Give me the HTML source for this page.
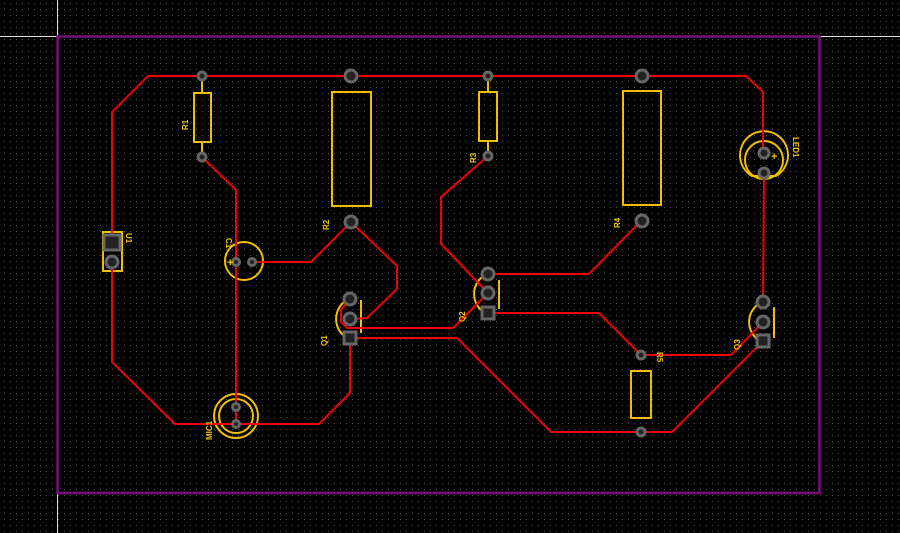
<!DOCTYPE html>
<html><head><meta charset="utf-8"><style>
html,body{margin:0;padding:0;background:#000;}
svg{display:block}
text{font-family:"Liberation Sans",sans-serif;font-weight:bold;font-size:8px;fill:#f0c800}
</style></head><body>
<svg width="900" height="533" viewBox="0 0 900 533" xmlns="http://www.w3.org/2000/svg">
<defs>
<pattern id="g" x="4" y="3" width="6" height="6" patternUnits="userSpaceOnUse">
<rect x="0" y="0" width="1" height="1" fill="#555"/>
</pattern>
</defs>
<rect width="900" height="533" fill="#000"/>
<rect width="900" height="533" fill="url(#g)"/>
<line x1="0" y1="36.5" x2="900" y2="36.5" stroke="#ddd" stroke-width="1"/>
<line x1="57.5" y1="0" x2="57.5" y2="533" stroke="#ddd" stroke-width="1"/>
<rect x="57.5" y="36.5" width="762" height="456.5" fill="none" stroke="#7a0a7a" stroke-width="2.5"/>

<g fill="none" stroke="#f0c000" stroke-width="2">
<rect x="194" y="93" width="17" height="49"/>
<line x1="202" y1="80" x2="202" y2="93"/><line x1="202" y1="142" x2="202" y2="153"/>
<rect x="332" y="92" width="39" height="114"/>
<rect x="479" y="92" width="18" height="49"/>
<line x1="488" y1="80" x2="488" y2="92"/><line x1="488" y1="141" x2="488" y2="152"/>
<rect x="623" y="91" width="38" height="114"/>
<rect x="631" y="371" width="20" height="47"/>
<rect x="103" y="232" width="19" height="39"/>
<circle cx="244" cy="261" r="19"/>
<circle cx="236" cy="416" r="22"/><circle cx="236" cy="416" r="17"/>
<path d="M752,176 A24,24 0 1 1 776,176 Z"/>
<circle cx="764" cy="160" r="19"/>
<path d="M347,300 A22,22 0 0 0 347,338"/><line x1="361" y1="300" x2="361" y2="333"/>
<path d="M485,275 A22,22 0 0 0 485,313"/><line x1="499" y1="280" x2="499" y2="309"/>
<path d="M760,303 A22,22 0 0 0 760,341"/><line x1="774" y1="307" x2="774" y2="338"/>
</g>

<g fill="none" stroke="#f00000" stroke-width="2" stroke-linejoin="miter">
<polyline points="112,242 112,112 148,76 746,76 763,92 763,153"/>
<line x1="764" y1="173" x2="763" y2="302"/>
<polyline points="112,262 112,362 175,424 319,424 350,393 350,338"/>
<polyline points="202,157 236,190 236,424"/>
<polyline points="252,262 311,262 351,222 397,266 397,289 367,318 352,319"/>
<polyline points="350,299 341,310 341,322 347,328 453,328 488,293"/>
<polyline points="350,338 457,338 551,432 672,432 763,341"/>
<polyline points="488,156 441,197 441,244 488,293"/>
<polyline points="488,274 589,274 641,221"/>
<polyline points="488,313 599,313 641,355 731,355 763,322"/>
</g>

<g fill="#222" stroke="#666" stroke-width="3">
<circle cx="202" cy="76" r="4"/><circle cx="202" cy="157" r="4"/>
<circle cx="351" cy="76" r="6"/><circle cx="351" cy="222" r="6"/>
<circle cx="488" cy="76" r="4"/><circle cx="488" cy="156" r="4"/>
<circle cx="642" cy="76" r="6"/><circle cx="642" cy="221" r="6"/>
<circle cx="641" cy="355" r="4"/><circle cx="641" cy="432" r="4"/>
<circle cx="236" cy="262" r="3.5"/><circle cx="252" cy="262" r="3.5"/>
<circle cx="236" cy="407" r="3.5"/><circle cx="236" cy="424" r="3.5"/>
<circle cx="764" cy="153" r="5"/><circle cx="764" cy="173" r="5"/>
<rect x="104" y="235" width="16" height="15"/><circle cx="112" cy="262" r="6"/>
<circle cx="350" cy="299" r="6"/><circle cx="350" cy="319" r="6"/><rect x="344" y="332" width="12" height="12"/>
<circle cx="488" cy="274" r="6"/><circle cx="488" cy="293" r="6"/><rect x="482" y="307" width="12" height="12"/>
<circle cx="763" cy="302" r="6"/><circle cx="763" cy="322" r="6"/><rect x="757" y="335" width="12" height="12"/>
</g>

<g>
<text transform="translate(188,130) rotate(-90)">R1</text>
<text transform="translate(329,230) rotate(-90)">R2</text>
<text transform="translate(476,163) rotate(-90)">R3</text>
<text transform="translate(620,228) rotate(-90)">R4</text>
<text transform="translate(657,352) rotate(90)">R5</text>
<text transform="translate(126,233) rotate(90)">U1</text>
<text transform="translate(226,238) rotate(90)">C1</text>
<text transform="translate(793,137) rotate(90)">LED1</text>
<text transform="translate(327,346) rotate(-90)">Q1</text>
<text transform="translate(465,322) rotate(-90)">Q2</text>
<text transform="translate(740,350) rotate(-90)">Q3</text>
<text transform="translate(212,440) rotate(-90)">MIC1</text>
<text x="771" y="160" style="font-size:11px">+</text>
<text x="227" y="266" style="font-size:11px">+</text>
</g>
</svg>
</body></html>
